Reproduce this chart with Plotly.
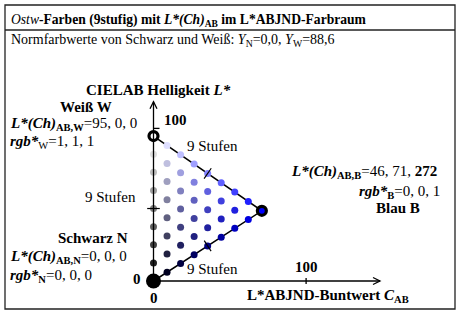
import math
import plotly.graph_objects as go

# ---------------- data ----------------
steps = 8  # 9 levels -> 8 intervals
white_LCh = [95, 0, 0]
black_LCh = [0, 0, 0]
blue_LCh = [46, 71, 272]
white_rgb = [1, 1, 1]
black_rgb = [0, 0, 0]
blue_rgb = [0, 0, 1]
axis_ticks = [0, 100]
edge_label = "9 Stufen"

# ---------------- geometry (pixels) ----------------
W, H = 457, 315
X0, Y0 = 153.5, 281.0   # pixel of the origin (black)
K = 1.526              # pixels per CIELAB unit

def pxx(x):
    return x / W

def pxy(y):
    return 1 - y / H

def d(p):
    return p / K

xr = [-X0 / K, (W - X0) / K]
yr = [-(H - Y0) / K, Y0 / K]

fig = go.Figure()

# colour grid
Lw, Cw = white_LCh[0], white_LCh[1]
Lb, Cb = blue_LCh[0], blue_LCh[1]
xs, ys, cols = [], [], []
for w in range(steps + 1):
    for c in range(steps + 1 - w):
        if (w, c) in [(0, 0), (steps, 0), (0, steps)]:
            continue
        xs.append(Cw * w / steps + Cb * c / steps)
        ys.append(Lw * w / steps + Lb * c / steps)
        r = white_rgb[0] * w / steps + blue_rgb[0] * c / steps
        g = white_rgb[1] * w / steps + blue_rgb[1] * c / steps
        b = white_rgb[2] * w / steps + blue_rgb[2] * c / steps
        cols.append("rgb(%d,%d,%d)" % (round(r * 255), round(g * 255), round(b * 255)))

# axes lines
ytip = d(Y0 - 101.7)
xtip = d(380 - X0)
line_style = dict(color="black", width=1.3)
fig.add_shape(type="line", x0=0, y0=0, x1=0, y1=ytip, xref="x", yref="y", line=line_style)
fig.add_shape(type="line", x0=0, y0=0, x1=xtip, y1=0, xref="x", yref="y", line=line_style)
# arrow heads
fig.add_shape(type="path", xref="x", yref="y",
              path="M %f,%f L 0,%f L %f,%f" % (-d(3.5), ytip - d(7), ytip, d(3.5), ytip - d(7)),
              line=line_style)
fig.add_shape(type="path", xref="x", yref="y",
              path="M %f,%f L %f,0 L %f,%f" % (xtip - d(7), d(3.5), xtip, xtip - d(7), -d(3.5)),
              line=line_style)
# ticks at 100
fig.add_shape(type="line", xref="x", yref="y", x0=0, x1=d(6), y0=axis_ticks[1], y1=axis_ticks[1], line=line_style)
fig.add_shape(type="line", xref="x", yref="y", x0=axis_ticks[1], x1=axis_ticks[1], y0=-d(3), y1=d(3), line=line_style)

# triangle edges
fig.add_trace(go.Scatter(x=[Cw, Cb, black_LCh[1]], y=[Lw, Lb, black_LCh[0]], mode="lines",
                         line=dict(color="black", width=1.5), hoverinfo="skip", showlegend=False))

# dots
fig.add_trace(go.Scatter(x=xs, y=ys, mode="markers",
                         marker=dict(size=7, color=cols, line=dict(width=0)),
                         hoverinfo="skip", showlegend=False, cliponaxis=False))

# mid ticks on edges
ang_wb = math.degrees(math.atan2(Lw - Lb, Cb - Cw))
ang_nb = math.degrees(math.atan2(Lb, Cb))
mids_x = [0, (Cw + Cb) / 2, Cb / 2]
mids_y = [Lw / 2, (Lw + Lb) / 2, Lb / 2]
fig.add_trace(go.Scatter(x=mids_x, y=mids_y, mode="markers",
                         marker=dict(symbol="line-ns", size=9, angle=[90, ang_wb, -ang_nb],
                                     line=dict(color="black", width=1.2)),
                         hoverinfo="skip", showlegend=False, cliponaxis=False))

# corners
fig.add_trace(go.Scatter(x=[black_LCh[1]], y=[black_LCh[0]], mode="markers",
                         marker=dict(size=15, color="black"), hoverinfo="skip", showlegend=False, cliponaxis=False))
fig.add_trace(go.Scatter(x=[Cw], y=[Lw], mode="markers",
                         marker=dict(size=9, color="white", line=dict(color="black", width=3.2)),
                         hoverinfo="skip", showlegend=False, cliponaxis=False))
fig.add_trace(go.Scatter(x=[Cb], y=[Lb], mode="markers",
                         marker=dict(size=9, color="rgb(0,0,255)", line=dict(color="black", width=3.2)),
                         hoverinfo="skip", showlegend=False, cliponaxis=False))

# frame
frame_line = dict(color="#222", width=1.3)
fig.add_shape(type="rect", xref="paper", yref="paper", x0=pxx(5), x1=pxx(455), y0=pxy(309), y1=pxy(5), line=frame_line)
fig.add_shape(type="line", xref="paper", yref="paper", x0=pxx(5), x1=pxx(455), y0=pxy(30), y1=pxy(30), line=frame_line)

FONT = "Liberation Serif"

def ann(text, x, y, anchor="center", size=15):
    fig.add_annotation(text=text, x=pxx(x), y=pxy(y), xref="paper", yref="paper",
                       xanchor=anchor, yanchor="middle", showarrow=False,
                       font=dict(family=FONT, size=size, color="black"))

ann("<i>Ostw</i><b>-Farben (9stufig) mit <i>L*(Ch)</i><sub>AB</sub> im L*ABJND-Farbraum</b>", 9, 20, "left", 13.6)
ann("Normfarbwerte von Schwarz und Weiß: <i>Y</i><sub>N</sub>=0,0, <i>Y</i><sub>W</sub>=88,6", 9, 41, "left", 14)

ann("<b>CIELAB Helligkeit <i>L*</i></b>", 158, 90)
ann("<b>%d</b>" % axis_ticks[1], 162, 120, "left")
ann("<b>%d</b>" % axis_ticks[0], 137, 279)
ann("<b>%d</b>" % axis_ticks[0], 153.5, 298)
ann("<b>%d</b>" % axis_ticks[1], X0 + axis_ticks[1] * K, 267)
ann("<b>L*ABJND-Buntwert <i>C</i><sub>AB</sub></b>", 328, 296)

ann(edge_label, 212, 146)
ann(edge_label, 212, 269)
ann(edge_label, 110, 197)

ann("<b>Weiß W</b>", 86, 107)
ann("<b><i>L*(Ch)</i><sub>AB,W</sub></b>=%d, %d, %d" % tuple(white_LCh), 8, 124, "left")
ann("<b><i>rgb*</i></b><sub>W</sub>=%d, %d, %d" % tuple(white_rgb), 8, 142, "left")

ann("<b>Schwarz N</b>", 93, 238)
ann("<b><i>L*(Ch)</i><sub>AB,N</sub></b>=%d, %d, %d" % tuple(black_LCh), 8, 257, "left")
ann("<b><i>rgb*</i><sub>N</sub></b>=%d, %d, %d" % tuple(black_rgb), 8, 276, "left")

ann("<b><i>L*(Ch)</i><sub>AB,B</sub></b>=%d, %d, <b>%d</b>" % tuple(blue_LCh), 439, 172, "right")
ann("<b><i>rgb*</i><sub>B</sub></b>=%d, %d, %d" % tuple(blue_rgb), 442, 192, "right")
ann("<b>Blau B</b>", 398, 208)

fig.update_xaxes(range=xr, visible=False, domain=[0, 1], fixedrange=True)
fig.update_yaxes(range=yr, visible=False, domain=[0, 1], fixedrange=True)
fig.update_layout(width=W, height=H, margin=dict(l=0, r=0, t=0, b=0),
                  plot_bgcolor="white", paper_bgcolor="white", showlegend=False,
                  font=dict(family=FONT))

fig.write_html("out.html", config={"displayModeBar": False},
               post_script="document.body.style.margin='0px';")
